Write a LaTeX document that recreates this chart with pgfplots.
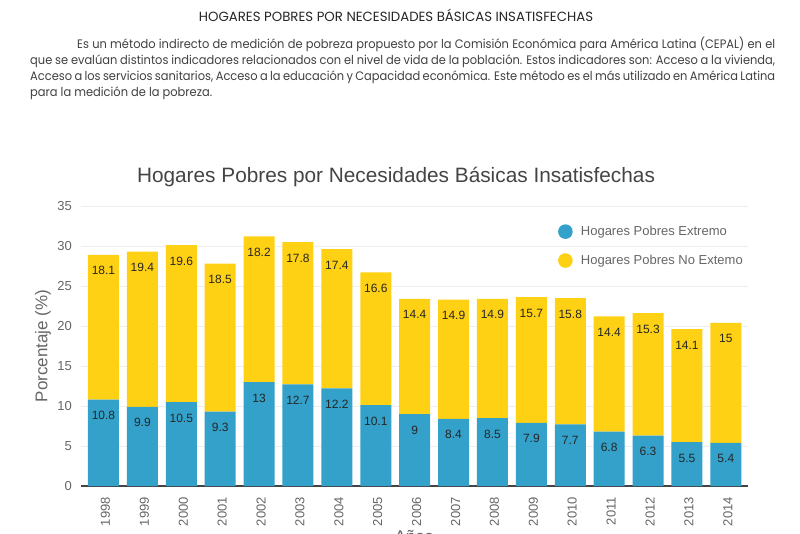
\documentclass[border=0pt]{standalone}
\usepackage{pgfplots}
\pgfplotsset{compat=1.18}
\usepackage{fontspec}
\setmainfont{Liberation Sans}
\newfontfamily\headfont[FakeStretch=0.93]{Poppins}
\newfontfamily\titfont{Poppins}
\definecolor{cblue}{HTML}{33A1CA}
\definecolor{cyellow}{HTML}{FFD114}
\definecolor{ctxt}{HTML}{444444}
\definecolor{ctick}{HTML}{666666}
\definecolor{cgrid}{HTML}{EEEEEE}
\begin{document}
\begin{tikzpicture}
\clip (0pt,0pt) rectangle (800pt,533pt);
\fill[white] (0pt,0pt) rectangle (800pt,533pt);
\node[font=\titfont\fontsize{13.3}{15}\selectfont, text=black!85] at (396pt,518pt) {HOGARES POBRES POR NECESIDADES BÁSICAS INSATISFECHAS};
\node[anchor=base west, inner sep=0pt, text=black!75] at (30pt,484pt) {\parbox[t]{745pt}{\headfont\fontsize{12.3}{16}\selectfont\hspace*{47pt}Es un método indirecto de medición de pobreza propuesto por la Comisión Económica para América Latina (CEPAL) en el\linebreak que se evalúan distintos indicadores relacionados con el nivel de vida de la población. Estos indicadores son: Acceso a la vivienda,\linebreak Acceso a los servicios sanitarios, Acceso a la educación y Capacidad económica. Este método es el más utilizado en América Latina\linebreak para la medición de la pobreza.}};
\node[font=\fontsize{20.8}{24}\selectfont, text=ctxt] at (396pt,356pt) {Hogares Pobres por Necesidades Básicas Insatisfechas};
\node[rotate=90, font=\fontsize{17}{20}\selectfont, text=ctick] at (43pt,187pt) {Porcentaje (\%)};
\node[anchor=north, font=\fontsize{17}{20}\selectfont, text=ctick] at (414pt,6pt) {Años};
\begin{axis}[
  at={(81pt,47pt)}, anchor=south west,
  scale only axis, width=667pt, height=280pt,
  xmin=-0.578, xmax=16.57, ymin=0, ymax=35,
  ybar stacked, bar width=31pt,
  ytick={0,5,...,35},
  xtick={0,...,16},
  xticklabels={1998,1999,2000,2001,2002,2003,2004,2005,2006,2007,2008,2009,2010,2011,2012,2013,2014},
  /pgf/number format/assume math mode=true,
  ymajorgrids, grid style={draw=cgrid, line width=0.8pt},
  axis x line=bottom, axis y line=left,
  y axis line style={draw=none},
  x axis line style={draw=ctxt, line width=1.3pt, -},
  major tick length=0pt,
  tick label style={font=\fontsize{13}{15}\selectfont, text=ctick},
  yticklabel style={inner sep=0pt, xshift=-9pt},
  xticklabel style={rotate=90, anchor=east, inner sep=0pt, xshift=-11pt, yshift=-2pt},
  nodes near coords,
  point meta=explicit symbolic,
  visualization depends on={rawy \as \ry},
  every node near coord/.append style={anchor=center, yshift={4pt*\ry-16pt}, font=\fontsize{12}{14}\selectfont, text=black!85},
  legend style={draw=none, fill=none, at={(rel axis cs:0.7105,0.943)}, anchor=north west,
    font=\fontsize{13}{15}\selectfont, text=ctick, row sep=14pt},
  legend cell align=left,
]
\addplot[fill=cblue, draw=none, legend image code/.code={\fill[cblue] (0pt,0pt) circle (7.3pt); \path (13.5pt,0pt);}] coordinates {
(0,10.8) [10.8] (1,9.9) [9.9] (2,10.5) [10.5] (3,9.3) [9.3] (4,13) [13] (5,12.7) [12.7] (6,12.2) [12.2] (7,10.1) [10.1] (8,9) [9] (9,8.4) [8.4] (10,8.5) [8.5] (11,7.9) [7.9] (12,7.7) [7.7] (13,6.8) [6.8] (14,6.3) [6.3] (15,5.5) [5.5] (16,5.4) [5.4]};
\addlegendentry{Hogares Pobres Extremo}
\addplot[fill=cyellow, draw=none, legend image code/.code={\fill[cyellow] (0pt,0pt) circle (7.3pt); \path (13.5pt,0pt);}] coordinates {
(0,18.1) [18.1] (1,19.4) [19.4] (2,19.6) [19.6] (3,18.5) [18.5] (4,18.2) [18.2] (5,17.8) [17.8] (6,17.4) [17.4] (7,16.6) [16.6] (8,14.4) [14.4] (9,14.9) [14.9] (10,14.9) [14.9] (11,15.7) [15.7] (12,15.8) [15.8] (13,14.4) [14.4] (14,15.3) [15.3] (15,14.1) [14.1] (16,15) [15]};
\addlegendentry{Hogares Pobres No Extemo}
\end{axis}
\end{tikzpicture}
\end{document}
